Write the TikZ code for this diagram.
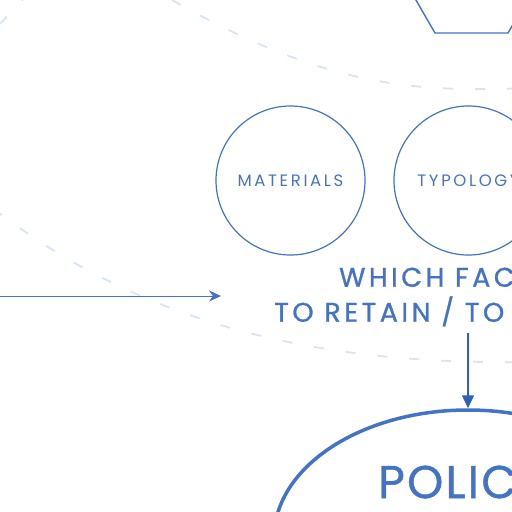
\documentclass[tikz,border=0pt]{standalone}
\usepackage{fontspec}
\usepackage{tikz}
\usetikzlibrary{shapes.geometric,arrows.meta}
\setmainfont{Poppins}
\newfontfamily\widefont[LetterSpace=16]{Poppins}
\newfontfamily\headfont[LetterSpace=13,FakeBold=1]{Poppins}
\newfontfamily\bigfont[LetterSpace=5,FakeBold=1]{Poppins}
\definecolor{sketchblue}{HTML}{4472C4}
\definecolor{sketchdeep}{HTML}{2F62B4}
\definecolor{sketchfaint}{HTML}{D7E4F4}

\begin{document}
\begin{tikzpicture}[x=1pt,y=-1pt,
    factor/.style={circle, draw=sketchblue, line width=1.2pt, minimum size=149pt,
      inner sep=0pt, text=sketchblue, font=\widefont\fontsize{16.5}{18}\selectfont},
    orbit/.style={draw=sketchfaint, line width=1.8pt, dash pattern=on 10pt off 22pt},
    arr/.style={draw=sketchblue, line width=1pt, -{Stealth[length=12pt,width=11pt]}}]
  \useasboundingbox (0,0) rectangle (512,512);
  \clip (0,0) rectangle (512,512);
  % faint orbits behind
  \draw[orbit] (0,24) -- (24,-2);
  \draw[orbit] (172,0) .. controls (330,90) and (420,92) .. (530,88);
  \draw[orbit] (-6,209) .. controls (150,330) and (330,365) .. (530,362);
  % hexagon at the top
  \node[regular polygon, regular polygon sides=6, draw=sketchblue, line width=1.4pt,
    minimum size=146pt, inner sep=0pt] (hub) at (471.5,-30.2) {};
  % factors
  \node[factor] (materials) at (290.5,180.5) {MATERIALS};
  \node[factor] (typology) at (468.5,180.5) {TYPOLOGY};
  \node[align=center, text=sketchblue, inner sep=4pt,
    font=\headfont\fontsize{27}{35}\selectfont] (question) at (468,297)
    {WHICH FACTORS\\TO RETAIN / TO CHANGE?};
  \node[ellipse, draw=sketchblue, line width=3.5pt, minimum width=388pt,
    minimum height=256pt] (policy) at (468,538) {};
  \node[anchor=west, text=sketchblue, inner sep=0pt,
    font=\bigfont\fontsize{46}{50}\selectfont] (policytxt) at (378,482) {POLICY};
  \coordinate (source) at (-4,296);
  \coordinate (intake) at (221,296);
  \draw[arr] (source) -- (intake);
  \draw[draw=sketchdeep, line width=1.5pt, -{Triangle[length=13pt,width=12pt]},
    shorten <=2pt] (question.south) -- (policy.north);
\end{tikzpicture}
\end{document}
